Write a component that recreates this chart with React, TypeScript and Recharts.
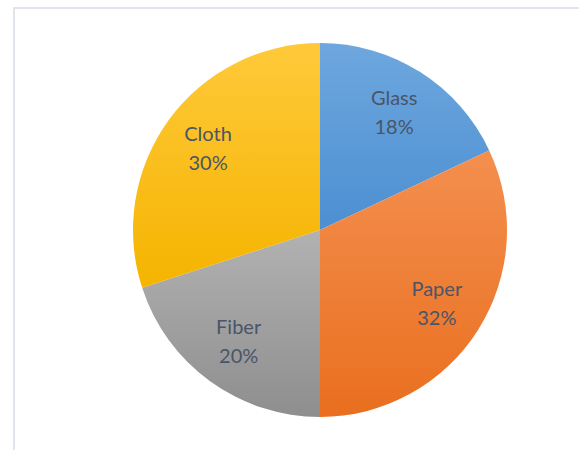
import { PieChart, Pie, Cell } from 'recharts';

const MATERIALS = ['Glass', 'Paper', 'Fiber', 'Cloth'];
const SHARES = [18, 32, 20, 30];
const GRADIENTS = [
  ['#6ea7de', '#4c8fd2'],
  ['#f48f4f', '#e96f1f'],
  ['#b2b2b2', '#8e8e8e'],
  ['#ffc93a', '#f5b400'],
];

const data = MATERIALS.map((name, i) => ({ name, value: SHARES[i] }));

const RAD = Math.PI / 180;

function renderLabel(props: any) {
  const { cx, cy, midAngle, outerRadius, name, value } = props;
  const r = outerRadius * 0.74;
  const x = cx + r * Math.cos(-midAngle * RAD);
  const y = cy + r * Math.sin(-midAngle * RAD);
  return (
    <text
      x={x}
      y={y}
      textAnchor="middle"
      fill="#4a5567"
      fontFamily="Lato, 'Open Sans', sans-serif"
      fontSize={20}
    >
      <tspan x={x} dy={-8}>{name}</tspan>
      <tspan x={x} dy={29}>{value}%</tspan>
    </text>
  );
}

export default function App() {
  return (
    <div
      style={{
        position: 'absolute',
        left: 0,
        top: 0,
        width: 579,
        height: 450,
        background: '#fff',
        overflow: 'hidden',
      }}
    >
      <div
        style={{
          position: 'absolute',
          left: 13,
          top: 7,
          width: 580,
          height: 460,
          borderLeft: '2px solid #e0e4ec',
          borderTop: '2px solid #e0e4ec',
        }}
      />
      <svg width={0} height={0} style={{ position: 'absolute' }}>
        <defs>
          {GRADIENTS.map(([a, b], i) => (
            <linearGradient key={i} id={`grad${i}`} x1="0" y1="0" x2="0" y2="1">
              <stop offset="0%" stopColor={a} />
              <stop offset="100%" stopColor={b} />
            </linearGradient>
          ))}
        </defs>
      </svg>
      <div style={{ position: 'absolute', left: 0, top: 0 }}>
        <PieChart width={579} height={450} margin={{ top: 0, right: 0, bottom: 0, left: 0 }}>
          <Pie
            data={data}
            dataKey="value"
            nameKey="name"
            cx={320}
            cy={230}
            outerRadius={187}
            startAngle={90}
            endAngle={-270}
            stroke="none"
            label={renderLabel}
            labelLine={false}
            isAnimationActive={false}
          >
            {data.map((_, i) => (
              <Cell key={i} fill={`url(#grad${i})`} />
            ))}
          </Pie>
        </PieChart>
      </div>
    </div>
  );
}
